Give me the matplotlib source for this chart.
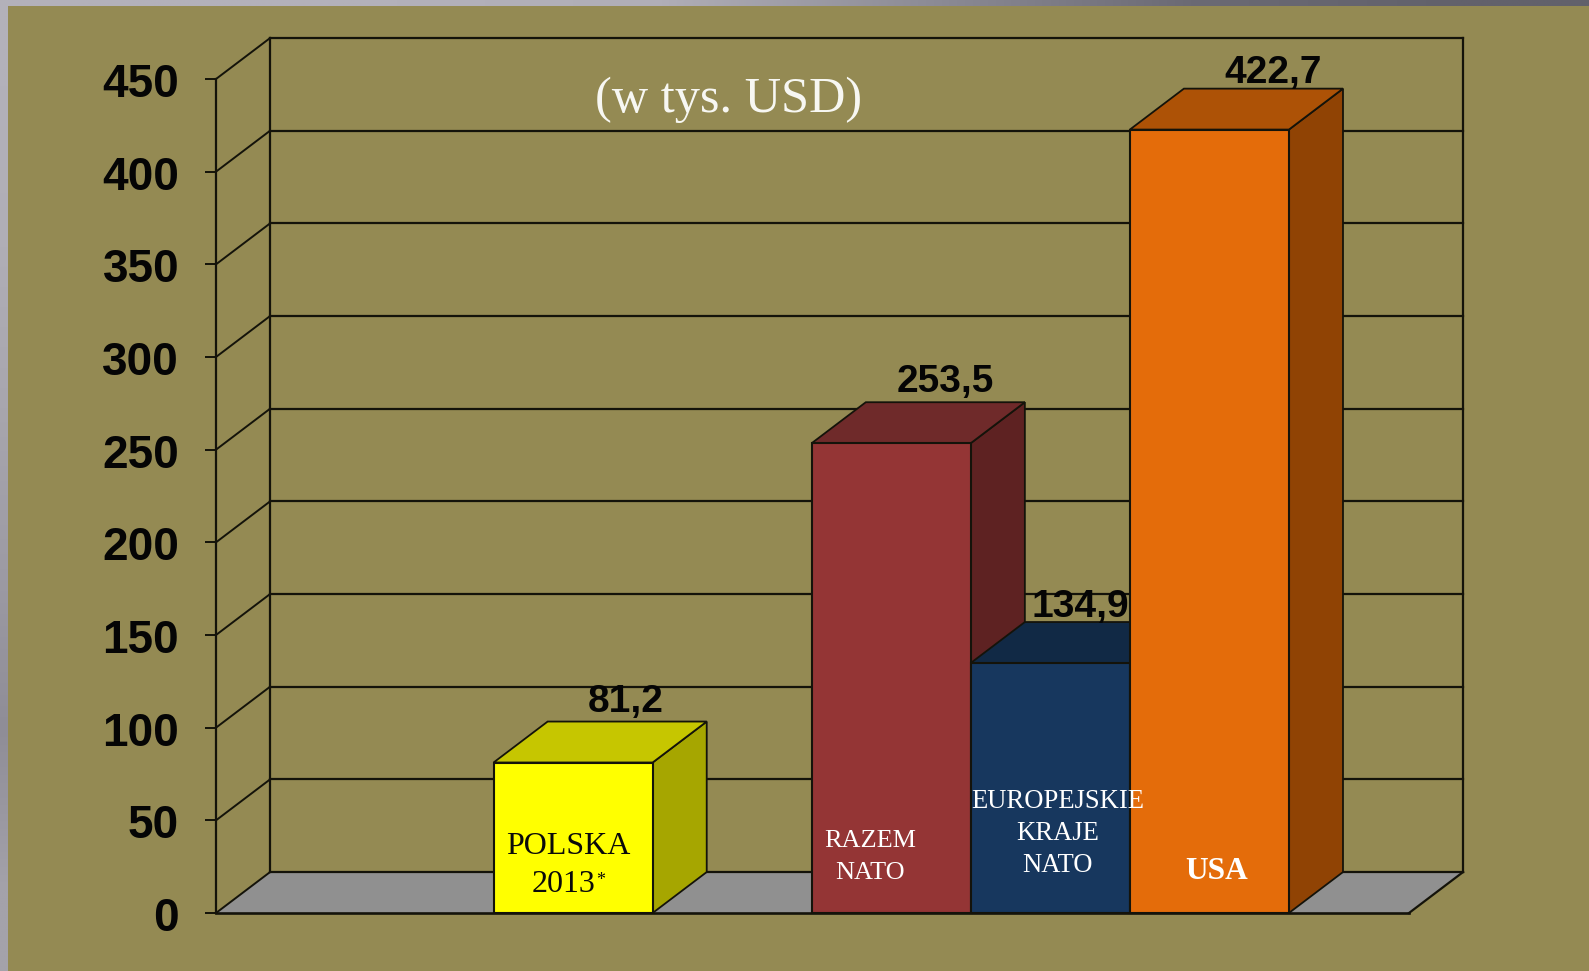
import numpy as np
import matplotlib
matplotlib.use("Agg")
import matplotlib.pyplot as plt
from matplotlib.colors import to_rgb
from matplotlib.patches import Polygon
from matplotlib.transforms import ScaledTranslation

# data
bar_names = ["POLSKA 2013*", "RAZEM NATO", "EUROPEJSKIE KRAJE NATO", "USA"]
bar_values = [81.2, 253.5, 134.9, 422.7]
bar_labels = ["81,2", "253,5", "134,9", "422,7"]
y_ticks = [0, 50, 100, 150, 200, 250, 300, 350, 400, 450]

# layout, x in bar widths
bar_left = [1.745, 3.745, 4.745, 5.745]
bar_w = 1.0
x_max = 7.5
y_max = 450
dx = 0.34   # depth of the 3d box
dy = 22.1

front_col = ["#ffff00", "#943535", "#17375e", "#e46c0a"]
top_col = ["#c6c600", "#6f2a2a", "#112945", "#ad5206"]
side_col = ["#a6a600", "#5e2222", "#0e2240", "#904304"]
bg_col = "#948a53"
line_col = "#14130a"

W, H = 1589, 971
fig = plt.figure(figsize=(W / 100, H / 100), dpi=100, facecolor=bg_col)

# strips at the window edge
top_stops = ["#b3b1ba", "#b3b1ba", "#b0aeb7", "#8d8c96", "#6b6a74", "#62616b"]
left_stops = ["#b3b1ba", "#b0aeb6", "#a8a6ae", "#9d9ba4", "#8f8d97", "#a4a2aa"]
ax_top = fig.add_axes([0, 1 - 6 / H, 1, 6 / H])
ax_top.imshow(np.array([[to_rgb(c) for c in top_stops]]), aspect="auto", interpolation="bilinear")
ax_top.axis("off")
ax_left = fig.add_axes([0, 0, 8 / W, 1 - 6 / H])
ax_left.imshow(np.array([[to_rgb(c)] for c in left_stops]), aspect="auto", interpolation="bilinear")
ax_left.axis("off")

ax = fig.add_axes([216 / W, (H - 913) / H, (1409 - 216) / W, (913 - 79) / H])
ax.set_facecolor("none")
ax.set_xlim(0, x_max)
ax.set_ylim(0, y_max)
for s in ax.spines.values():
    s.set_visible(False)
ax.set_xticks([])
ax.set_yticks(y_ticks)
ax.tick_params(axis="y", length=8, width=1.4, color=line_col, pad=18.5)
shift = ScaledTranslation(0, -1 / 100, fig.dpi_scale_trans)
for t in ax.get_yticklabels():
    t.set_family("Liberation Sans")
    t.set_fontweight("bold")
    t.set_fontsize(33)
    t.set_color("#050505")
    t.set_transform(t.get_transform() + shift)

# floor
ax.add_patch(Polygon([(0, 0), (x_max, 0), (x_max + dx, dy), (dx, dy)], closed=True,
                     facecolor="#909090", edgecolor="none", clip_on=False, zorder=1))

# walls and grid
lw = 1.6
for v in y_ticks:
    ax.plot([0, dx], [v, v + dy], color=line_col, lw=lw - 0.2, clip_on=False, zorder=2)
    ax.plot([dx, x_max + dx], [v + dy, v + dy], color=line_col, lw=lw, clip_on=False, zorder=2)
ax.plot([0, 0], [0, y_max], color=line_col, lw=lw, clip_on=False, zorder=2)
ax.plot([dx, dx], [dy, y_max + dy], color=line_col, lw=lw, clip_on=False, zorder=2)
ax.plot([x_max + dx, x_max + dx], [dy, y_max + dy], color=line_col, lw=lw, clip_on=False, zorder=2)
ax.plot([x_max, x_max + dx], [0, dy], color=line_col, lw=lw, clip_on=False, zorder=2)
ax.plot([0, x_max], [0, 0], color=line_col, lw=lw + 0.3, clip_on=False, zorder=2)

# bars, left to right so the neighbour covers the side
for i in range(len(bar_values)):
    x0 = bar_left[i]
    x1 = x0 + bar_w
    v = bar_values[i]
    z = 3 + i
    ax.add_patch(Polygon([(x1, 0), (x1 + dx, dy), (x1 + dx, v + dy), (x1, v)], closed=True,
                         facecolor=side_col[i], edgecolor=line_col, lw=1.3, clip_on=False, zorder=z))
    ax.add_patch(Polygon([(x0, v), (x1, v), (x1 + dx, v + dy), (x0 + dx, v + dy)], closed=True,
                         facecolor=top_col[i], edgecolor=line_col, lw=1.3, clip_on=False, zorder=z))
    ax.bar(x0, v, width=bar_w, align="edge", color=front_col[i], edgecolor=line_col, lw=1.5,
           clip_on=False, zorder=z)

# value labels, offsets in px from the bar centre and the top of the box
label_off = [(53, 10), (54, 10), (30, 5), (64, 6)]
for i in range(len(bar_values)):
    ax.annotate(bar_labels[i], xy=(bar_left[i] + bar_w / 2, bar_values[i] + dy),
                xytext=(label_off[i][0] * 0.72, label_off[i][1] * 0.72), textcoords="offset points",
                ha="center", va="baseline", family="Liberation Sans", fontweight="bold",
                fontsize=28, color="#050505", zorder=20, annotation_clip=False)


def inner(i, txt, off_x, px_y, size, col, weight="normal"):
    # px_y counted up from the floor line
    ax.annotate(txt, xy=(bar_left[i] + bar_w / 2, 0), xytext=(off_x * 0.72, px_y * 0.72),
                textcoords="offset points", ha="center", va="center", family="Liberation Serif",
                fontsize=size, color=col, fontweight=weight, zorder=20, annotation_clip=False)


inner(0, "POLSKA", -5, 67, 23, "#0a0a0a")
inner(0, "2013", -10, 29, 23, "#0a0a0a")
inner(0, "*", 28, 33, 13, "#0a0a0a")
inner(1, "RAZEM", -21, 72, 18.9, "white")
inner(1, "NATO", -21, 40, 18.9, "white")
inner(2, "EUROPEJSKIE", 7, 112, 19.2, "white")
inner(2, "KRAJE", 7, 80, 19.2, "white")
inner(2, "NATO", 7, 48, 19.2, "white")
inner(3, "USA", 7, 42, 22.6, "white", "bold")

ax.text(729, H - 100, "(w tys. USD)", transform=None, ha="center", va="center",
        family="Liberation Serif", fontsize=36.2, color="#f7f7f2", zorder=20)

fig.savefig("out.png", dpi=100, facecolor=bg_col)
